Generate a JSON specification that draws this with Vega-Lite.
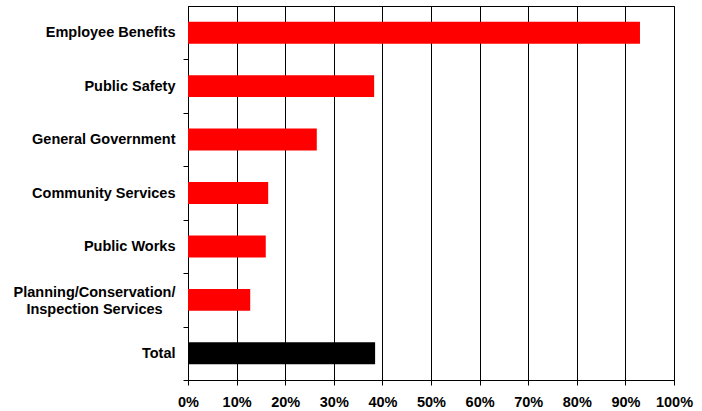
{
  "$schema": "https://vega.github.io/schema/vega-lite/v6.json",
  "autosize": {"type": "none"},
  "padding": {"left": 188, "top": 6, "right": 28, "bottom": 31},
  "width": 486,
  "height": 374,
  "background": "white",
  "config": {
    "view": {"stroke": "black", "strokeWidth": 1},
    "font": "Liberation Sans"
  },
  "data": {
    "values": [
      {"department": "Employee Benefits", "pct": 0.93, "group": "dept"},
      {"department": "Public Safety", "pct": 0.383, "group": "dept"},
      {"department": "General Government", "pct": 0.265, "group": "dept"},
      {"department": "Community Services", "pct": 0.165, "group": "dept"},
      {"department": "Public Works", "pct": 0.16, "group": "dept"},
      {"department": "Planning/Conservation/ Inspection Services", "pct": 0.128, "group": "dept"},
      {"department": "Total", "pct": 0.385, "group": "total"}
    ]
  },
  "mark": {"type": "bar"},
  "encoding": {
    "y": {
      "field": "department",
      "type": "nominal",
      "sort": null,
      "scale": {"paddingInner": 0.59, "paddingOuter": 0.295},
      "axis": {
        "title": null,
        "tickSize": 5,
        "tickOffset": 26.71,
        "labelOffset": {"condition": {"test": "indexof(datum.value, 'Planning') === 0", "value": -34.5}, "value": -26.71},
        "tickColor": "black",
        "domainColor": "black",
        "labelFontWeight": "bold",
        "labelFontSize": 14.5,
        "labelColor": "black",
        "labelLineHeight": 17,
        "labelAlign": {"condition": {"test": "indexof(datum.value, 'Planning') === 0", "value": "center"}, "value": "right"},
        "labelPadding": {"condition": {"test": "indexof(datum.value, 'Planning') === 0", "value": 89}, "value": 8},
        "labelLimit": 300,
        "labelExpr": "indexof(datum.value, 'Planning') === 0 ? ['Planning/Conservation/', 'Inspection Services'] : datum.value"
      }
    },
    "x": {
      "field": "pct",
      "type": "quantitative",
      "scale": {"domain": [0, 1], "nice": false},
      "axis": {
        "title": null,
        "format": ".0%",
        "values": [0, 0.1, 0.2, 0.3, 0.4, 0.5, 0.6, 0.7, 0.8, 0.9, 1],
        "labelOverlap": false,
        "labelFlush": false,
        "grid": true,
        "gridColor": "black",
        "gridOpacity": 1,
        "tickSize": 5,
        "tickColor": "black",
        "domainColor": "black",
        "labelFontWeight": "bold",
        "labelFontSize": 14.5,
        "labelColor": "black",
        "labelPadding": 10
      }
    },
    "color": {
      "field": "group",
      "type": "nominal",
      "scale": {"domain": ["dept", "total"], "range": ["#FF0000", "#000000"]},
      "legend": null
    }
  }
}
